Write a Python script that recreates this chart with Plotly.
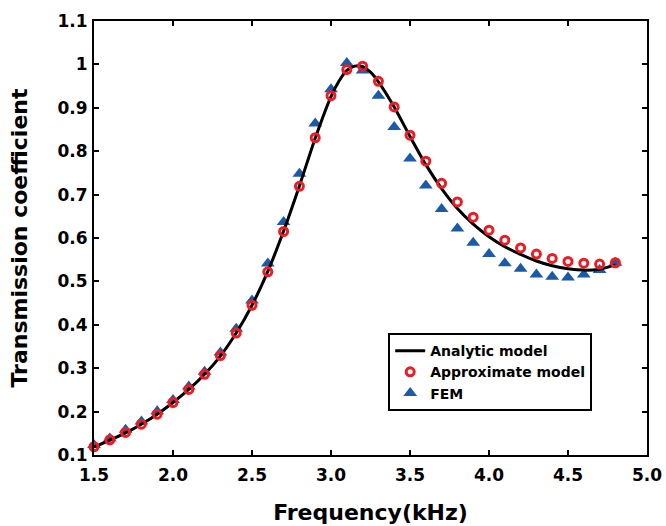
import plotly.graph_objects as go

# ---- data ----
freq_pts = [1.5, 1.6, 1.7, 1.8, 1.9, 2.0, 2.1, 2.2, 2.3, 2.4, 2.5, 2.6, 2.7, 2.8, 2.9, 3.0,
            3.1, 3.2, 3.3, 3.4, 3.5, 3.6, 3.7, 3.8, 3.9, 4.0, 4.1, 4.2, 4.3, 4.4, 4.5, 4.6, 4.7, 4.8]
approx_vals = [0.119, 0.135, 0.152, 0.171, 0.194, 0.221, 0.251, 0.286, 0.329, 0.381, 0.445, 0.522,
               0.615, 0.719, 0.831, 0.928, 0.988, 0.996, 0.961, 0.902, 0.837, 0.777, 0.726, 0.683,
               0.648, 0.618, 0.595, 0.577, 0.563, 0.553, 0.546, 0.542, 0.540, 0.543]
fem_vals = [0.123, 0.138, 0.158, 0.177, 0.201, 0.227, 0.258, 0.292, 0.336, 0.391, 0.456, 0.541,
            0.637, 0.748, 0.864, 0.943, 1.003, 0.986, 0.928, 0.856, 0.783, 0.721, 0.667, 0.622,
            0.589, 0.563, 0.542, 0.529, 0.516, 0.511, 0.509, 0.516, 0.526, 0.543]
freq_line = [1.5, 1.6, 1.7, 1.8, 1.9, 2.0, 2.1, 2.2, 2.3, 2.4, 2.5, 2.6, 2.7, 2.8, 2.9, 3.0,
             3.05, 3.1, 3.15, 3.2, 3.25, 3.3, 3.4, 3.5, 3.6, 3.7, 3.8, 3.9, 4.0, 4.1, 4.2, 4.3,
             4.4, 4.5, 4.6, 4.7, 4.8]
analytic_vals = [0.118, 0.134, 0.151, 0.171, 0.194, 0.221, 0.251, 0.286, 0.328, 0.381, 0.445, 0.523,
                 0.616, 0.720, 0.830, 0.926, 0.961, 0.986, 0.996, 0.995, 0.982, 0.960, 0.902, 0.834,
                 0.769, 0.714, 0.668, 0.632, 0.603, 0.580, 0.562, 0.547, 0.536, 0.529, 0.526, 0.528,
                 0.538]
x_ticks = [1.5, 2.0, 2.5, 3.0, 3.5, 4.0, 4.5, 5.0]
x_ticktext = ["1.5", "2.0", "2.5", "3.0", "3.5", "4.0", "4.5", "5.0"]
y_ticks = [0.1, 0.2, 0.3, 0.4, 0.5, 0.6, 0.7, 0.8, 0.9, 1.0, 1.1]
y_ticktext = ["0.1", "0.2", "0.3", "0.4", "0.5", "0.6", "0.7", "0.8", "0.9", "1", "1.1"]

FONT = "DejaVu Sans"
RED = "#ec1c24"
BLUE = "#1a5aa8"

fig = go.Figure()
fig.add_trace(go.Scatter(
    x=freq_pts, y=fem_vals, mode="markers", name="FEM", legendrank=3,
    marker=dict(symbol="triangle-up", size=12, color=BLUE, line=dict(width=0)),
    cliponaxis=False))
fig.add_trace(go.Scatter(
    x=freq_line, y=analytic_vals, mode="lines", name="Analytic model", legendrank=1,
    line=dict(color="black", width=3, shape="spline", smoothing=0.6),
    cliponaxis=False))
fig.add_trace(go.Scatter(
    x=freq_pts, y=approx_vals, mode="markers", name="Approximate model", legendrank=2,
    marker=dict(symbol="circle-open", size=8, color=RED, line=dict(width=3, color=RED)),
    cliponaxis=False))

axis_common = dict(
    showgrid=False, zeroline=False, showline=True, linecolor="black", linewidth=2,
    mirror="ticks", ticks="inside", ticklen=5, tickwidth=2, tickcolor="black",
    tickfont=dict(family=FONT, size=17, color="black", weight="bold"),
)

fig.update_layout(
    width=666, height=526,
    margin=dict(l=94, r=19, t=21, b=71, autoexpand=False),
    paper_bgcolor="white", plot_bgcolor="white",
    font=dict(family=FONT, color="black", weight="bold"),
    xaxis=dict(range=[1.5, 5.0], tickmode="array", tickvals=x_ticks, ticktext=x_ticktext,
               ticklabelstandoff=4,
               title=dict(text="Frequency(kHz)", standoff=20,
                          font=dict(family=FONT, size=22, color="black", weight="bold")),
               automargin=False, **axis_common),
    yaxis=dict(range=[0.1, 1.1], tickmode="array", tickvals=y_ticks, ticktext=y_ticktext,
               ticklabelstandoff=1,
               title=dict(text="Transmission coefficient", standoff=24,
                          font=dict(family=FONT, size=22, color="black", weight="bold")),
               automargin=False, **axis_common),
    showlegend=True,
    legend=dict(x=0.532, y=0.281, xanchor="left", yanchor="top",
                bgcolor="white", bordercolor="black", borderwidth=2,
                font=dict(family=FONT, size=14, color="black", weight="bold"),
                tracegroupgap=0, itemwidth=30),
)

fig.write_html("out.html")
